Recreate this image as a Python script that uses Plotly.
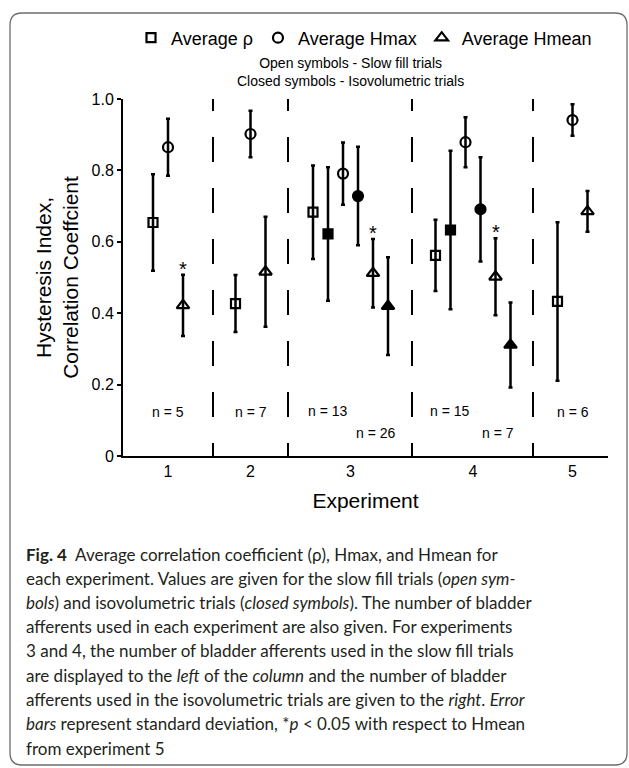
import plotly.graph_objects as go

# ---------------- data ----------------
experiments = ["1", "2", "3", "4", "5"]
iso_experiments = ["3", "4"]

# slow fill trials (open symbols): mean and standard deviation
slow_rho = [0.654, 0.427, 0.683, 0.562, 0.433]
slow_rho_sd = [0.135, 0.080, 0.131, 0.100, 0.222]
slow_hmax = [0.865, 0.902, 0.791, 0.879, 0.941]
slow_hmax_sd = [0.080, 0.065, 0.087, 0.070, 0.044]
slow_hmean = [0.422, 0.516, 0.512, 0.502, 0.685]
slow_hmean_sd = [0.086, 0.154, 0.096, 0.108, 0.057]

# isovolumetric trials (closed symbols), experiments 3 and 4 only
iso_rho = [0.622, 0.633]
iso_rho_sd = [0.187, 0.222]
iso_hmax = [0.728, 0.691]
iso_hmax_sd = [0.138, 0.146]
iso_hmean = [0.420, 0.311]
iso_hmean_sd = [0.137, 0.119]

n_slow = ["n = 5", "n = 7", "n = 13", "n = 15", "n = 6"]
n_iso = ["n = 26", "n = 7"]
significant = ["1", "3", "4"]  # * p < 0.05 vs Hmean of experiment 5

y_ticks = [0, 0.2, 0.4, 0.6, 0.8, 1.0]
y_ticktext = ["0", "0.2", "0.4", "0.6", "0.8", "1.0"]

caption_lines = [
    "<b>Fig. 4</b>&nbsp;&nbsp;Average correlation coefficient (ρ), Hmax, and Hmean for",
    "each experiment. Values are given for the slow fill trials (<i>open sym-</i>",
    "<i>bols</i>) and isovolumetric trials (<i>closed symbols</i>). The number of bladder",
    "afferents used in each experiment are also given. For experiments",
    "3 and 4, the number of bladder afferents used in the slow fill trials",
    "are displayed to the <i>left</i> of the <i>column</i> and the number of bladder",
    "afferents used in the isovolumetric trials are given to the <i>right</i>. <i>Error</i>",
    "<i>bars</i> represent standard deviation, *<i>p</i> &lt; 0.05 with respect to Hmean",
    "from experiment 5",
]

# ---------------- layout geometry ----------------
W, H = 629, 768
PL, PR, PT, PB = 123, 608, 99, 456          # plot area in px
X_RANGE = PR - PL                            # x axis runs in px-like units
group_center = {"1": 45, "2": 127.5, "3": 227.5, "4": 350, "5": 449.5}
dividers = [90, 165, 289, 410]
off3 = {"rho": -15, "hmax": 0, "hmean": 15}
off6_slow = {"rho": -37.5, "hmax": -7.5, "hmean": 22.5}
off6_iso = {"rho": -22.5, "hmax": 7.5, "hmean": 37.5}


def slow_x(series):
    return [group_center[e] + (off6_slow[series] if e in iso_experiments else off3[series])
            for e in experiments]


def iso_x(series):
    return [group_center[e] + off6_iso[series] for e in iso_experiments]


def px(xp):
    return (xp - PL) / (PR - PL)


def py(yp):
    return (PB - yp) / (PB - PT)


FONT = "Liberation Sans, Arial, sans-serif"
CAP_FONT = "Lato, Noto Sans, sans-serif"
SIZES = {"square": 9, "circle": 10, "triangle": 11}

fig = go.Figure()


def add(x, y, sd, symbol, name, showlegend):
    size = SIZES[symbol.split("-")[0]]
    fig.add_trace(go.Scatter(
        x=x, y=y, mode="markers", name=name, showlegend=showlegend,
        marker=dict(symbol=symbol, size=size, color="black",
                    line=dict(color="black", width=2.2)),
        error_y=dict(type="data", array=sd, visible=True, color="black", thickness=2.5, width=2),
        cliponaxis=False, hoverinfo="skip"))


add(slow_x("rho"), slow_rho, slow_rho_sd, "square-open", "Average ρ", True)
add(slow_x("hmax"), slow_hmax, slow_hmax_sd, "circle-open", "Average Hmax", True)
add(slow_x("hmean"), slow_hmean, slow_hmean_sd, "triangle-up-open", "Average Hmean", True)
add(iso_x("rho"), iso_rho, iso_rho_sd, "square", "Average ρ (isovolumetric)", False)
add(iso_x("hmax"), iso_hmax, iso_hmax_sd, "circle", "Average Hmax (isovolumetric)", False)
add(iso_x("hmean"), iso_hmean, iso_hmean_sd, "triangle-up", "Average Hmean (isovolumetric)", False)

shapes = []
dash = "13px,26px," + ",".join(["25px,26px"] * 7)
for d in dividers:
    shapes.append(dict(type="line", xref="x", yref="paper", x0=d, x1=d, y0=0, y1=1,
                       line=dict(color="black", width=2, dash=dash), layer="above"))

# rounded frame around figure + caption
L, T, R, B, r = 10, 13, 627, 765, 12
rx, ry = r / (PR - PL), r / (PB - PT)
path = (f"M {px(L)+rx},{py(T)} L {px(R)-rx},{py(T)} Q {px(R)},{py(T)} {px(R)},{py(T)-ry} "
        f"L {px(R)},{py(B)+ry} Q {px(R)},{py(B)} {px(R)-rx},{py(B)} "
        f"L {px(L)+rx},{py(B)} Q {px(L)},{py(B)} {px(L)},{py(B)+ry} "
        f"L {px(L)},{py(T)-ry} Q {px(L)},{py(T)} {px(L)+rx},{py(T)} Z")
shapes.append(dict(type="path", xref="paper", yref="paper", path=path,
                   line=dict(color="#6d6d6d", width=1.3)))

ann = []
# n labels
for e, t in zip(experiments, n_slow):
    if e in iso_experiments:
        ann.append(dict(x=group_center[e] - 23, y=0.125, text=t, xref="x", yref="y",
                        showarrow=False, font=dict(size=14, family=FONT, color="black")))
    else:
        ann.append(dict(x=group_center[e], y=0.123, text=t, xref="x", yref="y",
                        showarrow=False, font=dict(size=14, family=FONT, color="black")))
for e, t in zip(iso_experiments, n_iso):
    ann.append(dict(x=group_center[e] + 25, y=0.064, text=t, xref="x", yref="y",
                    showarrow=False, font=dict(size=14, family=FONT, color="black")))
# significance stars above open Hmean triangles
sx = slow_x("hmean")
for i, e in enumerate(experiments):
    if e in significant:
        ann.append(dict(x=sx[i], y=slow_hmean[i] + slow_hmean_sd[i], text="*", xref="x", yref="y",
                        showarrow=False, yanchor="bottom", yshift=-7,
                        font=dict(size=20, family=FONT, color="black")))
# subtitle under legend
ann.append(dict(x=px(350), y=py(72), xref="paper", yref="paper", showarrow=False,
                text="Open symbols - Slow fill trials<br>Closed symbols - Isovolumetric trials",
                font=dict(size=14, family=FONT, color="black"), yanchor="middle"))
# caption
for k, line in enumerate(caption_lines):
    ann.append(dict(x=px(24), y=py(554 + 24.25 * k), xref="paper", yref="paper",
                    xanchor="left", yanchor="middle", showarrow=False, align="left",
                    text=line, font=dict(size=17, family=CAP_FONT, color="#231f20")))

fig.update_layout(
    width=W, height=H,
    margin=dict(l=PL, r=W - PR, t=PT, b=H - PB, pad=0),
    paper_bgcolor="white", plot_bgcolor="white",
    font=dict(family=FONT, color="black"),
    shapes=shapes, annotations=ann,
    showlegend=True,
    legend=dict(orientation="h", xref="container", yref="container",
                x=131 / W, xanchor="left", y=1 - 38 / H, yanchor="middle",
                font=dict(size=18, family=FONT, color="black"),
                bgcolor="rgba(0,0,0,0)", borderwidth=0, itemclick=False,
                itemdoubleclick=False),
    xaxis=dict(range=[0, X_RANGE], tickvals=[group_center[e] for e in experiments],
               ticktext=experiments, ticks="", showgrid=False, zeroline=False,
               showline=True, linecolor="black", linewidth=2,
               tickfont=dict(size=16, family=FONT, color="black"),
               title=dict(text="Experiment", font=dict(size=21, family=FONT, color="black"),
                          standoff=14)),
    yaxis=dict(range=[0, 1], tickvals=y_ticks, ticktext=y_ticktext, ticks="outside",
               ticklen=4, tickwidth=2, tickcolor="black", showgrid=False, zeroline=False,
               showline=True, linecolor="black", linewidth=2,
               tickfont=dict(size=16, family=FONT, color="black"),
               title=dict(text="Hysteresis Index,<br>Correlation Coeffcient",
                          font=dict(size=21, family=FONT, color="black"), standoff=7)),
)

fig.write_html("out.html")
